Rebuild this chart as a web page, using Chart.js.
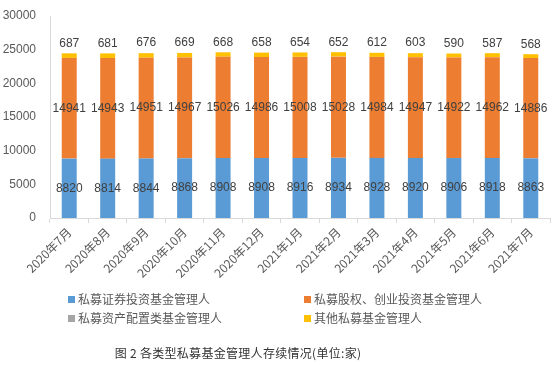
<!DOCTYPE html>
<html><head><meta charset="utf-8">
<script src="https://cdn.jsdelivr.net/npm/chart.js@4"></script>
<style>
html,body{margin:0;padding:0;background:#fff;}
#wrap{position:relative;width:553px;height:365px;}
canvas{position:absolute;left:0;top:0;}
.lg{position:absolute;font:12px "Noto Sans CJK SC",sans-serif;color:#595959;white-space:nowrap;line-height:14px;}
.lg i{display:inline-block;width:7px;height:7px;margin-right:3px;vertical-align:1px;}
#title{position:absolute;left:0;width:476px;top:344px;text-align:center;font:12px "Noto Sans CJK SC",sans-serif;color:#333;letter-spacing:0.3px;white-space:nowrap;}
</style></head>
<body><div id="wrap"><canvas id="c" width="553" height="365"></canvas>
<div class="lg" style="left:68px;top:292px"><i style="background:#5B9BD5"></i>私募证券投资基金管理人</div>
<div class="lg" style="left:304px;top:292px"><i style="background:#ED7D31"></i>私募股权、创业投资基金管理人</div>
<div class="lg" style="left:68px;top:311px"><i style="background:#A5A5A5"></i>私募资产配置类基金管理人</div>
<div class="lg" style="left:304px;top:311px"><i style="background:#FFC000"></i>其他私募基金管理人</div>
<div id="title">图 2 各类型私募基金管理人存续情况(单位:家)</div>
</div>
<script>
const categories = ["2020年7月","2020年8月","2020年9月","2020年10月","2020年11月","2020年12月","2021年1月","2021年2月","2021年3月","2021年4月","2021年5月","2021年6月","2021年7月"];
const securities = [8820,8814,8844,8868,8908,8908,8916,8934,8928,8920,8906,8918,8863];
const equity = [14941,14943,14951,14967,15026,14986,15008,15028,14984,14947,14922,14962,14886];
const assetAlloc = [9,9,9,9,9,9,9,9,9,9,9,9,9];
const others = [687,681,676,669,668,658,654,652,612,603,590,587,568];
const yTicks = [0,5000,10000,15000,20000,25000,30000];

const labelPlugin = {
  id: 'barLabels',
  afterDatasetsDraw(chart) {
    const ctx = chart.ctx;
    ctx.save();
    ctx.font = '12px "Liberation Sans", Arial, sans-serif';
    ctx.fillStyle = '#404040';
    ctx.textAlign = 'center';
    ctx.textBaseline = 'middle';
    [0,1,3].forEach(di => {
      const meta = chart.getDatasetMeta(di);
      const data = chart.data.datasets[di].data;
      meta.data.forEach((bar, i) => {
        if (di === 3) {
          ctx.fillText(String(data[i]), bar.x, bar.y - 10);
        } else {
          ctx.fillText(String(data[i]), bar.x, (bar.y + bar.base) / 2);
        }
      });
    });
    ctx.restore();
  }
};

const mk = (label, data, color) => ({label, data, backgroundColor: color, barPercentage: 0.39, categoryPercentage: 1, borderWidth: 0});

new Chart(document.getElementById('c'), {
  type: 'bar',
  data: {
    labels: categories,
    datasets: [
      mk('私募证券投资基金管理人', securities, '#5B9BD5'),
      mk('私募股权、创业投资基金管理人', equity, '#ED7D31'),
      mk('私募资产配置类基金管理人', assetAlloc, '#A5A5A5'),
      mk('其他私募基金管理人', others, '#FFC000')
    ]
  },
  options: {
    responsive: false,
    animation: false,
    layout: {padding: {top: 16, right: 3, left: 0, bottom: 0}},
    plugins: {legend: {display: false}, tooltip: {enabled: false}},
    scales: {
      x: {
        stacked: true,
        afterFit: s => { s.height = 147; },
        grid: {offset: true, drawOnChartArea: false, color: '#D9D9D9', tickLength: 5},
        border: {color: '#D9D9D9'},
        ticks: {maxRotation: 45, minRotation: 45, color: '#595959', padding: 2,
          font: {size: 12, family: '"Noto Sans CJK SC", sans-serif'}}
      },
      y: {
        stacked: true,
        min: 0, max: 30000,
        afterFit: s => { s.width = 50; },
        afterBuildTicks: s => { s.ticks = yTicks.map(v => ({value: v})); },
        grid: {display: false},
        border: {color: '#D9D9D9'},
        ticks: {color: '#595959', padding: 6, callback: v => String(v),
          font: {size: 12, family: '"Liberation Sans", Arial, sans-serif'}}
      }
    }
  },
  plugins: [labelPlugin]
});
</script>
</body></html>
